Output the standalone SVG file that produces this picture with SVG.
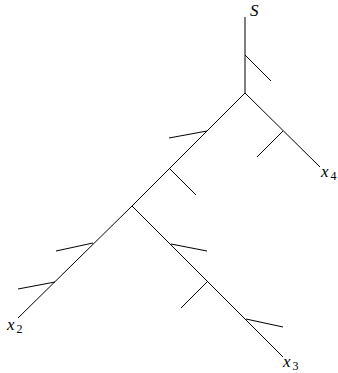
<svg xmlns="http://www.w3.org/2000/svg" width="338" height="373" viewBox="0 0 338 373">
<style>
.e{stroke:#000;stroke-width:1;fill:none;stroke-linecap:butt}
text{font-family:'Liberation Serif','Times New Roman',serif;fill:#000}
.v{font-style:italic;font-size:17px}
.s{font-size:12px;font-style:normal}
</style>
<rect width="338" height="373" fill="#fff"/>
<g id="connectors">
<path class="e" d="M245,17V93"/>
<path class="e" d="M245,55L271,81"/>
<path class="e" d="M245,93L320,167"/>
<path class="e" d="M283,131L257,157"/>
<path class="e" d="M245,93L132,206"/>
<path class="e" d="M207,131L169,138"/>
<path class="e" d="M169,168L196,195"/>
<path class="e" d="M132,206L18,318"/>
<path class="e" d="M93,243L56,251"/>
<path class="e" d="M55,282L18,289"/>
<path class="e" d="M132,206L283,357"/>
<path class="e" d="M171,244L207,251"/>
<path class="e" d="M207,282L181,308"/>
<path class="e" d="M246,319L283,327"/>
</g>
<g id="S"><text class="v" x="250" y="16">S</text></g>
<g id="x4"><text class="v" x="321" y="177">x<tspan class="s" dx="2" dy="3">4</tspan></text></g>
<g id="x2"><text class="v" x="7" y="330">x<tspan class="s" dx="2" dy="3">2</tspan></text></g>
<g id="x3"><text class="v" x="283" y="367">x<tspan class="s" dx="2" dy="3">3</tspan></text></g>
</svg>
